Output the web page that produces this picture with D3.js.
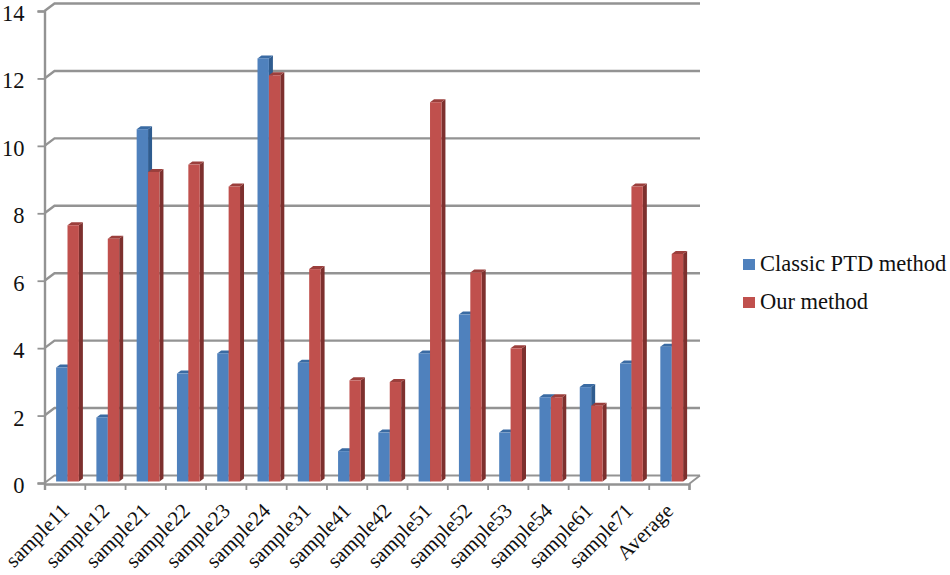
<!DOCTYPE html>
<html><head><meta charset="utf-8">
<script src="https://cdnjs.cloudflare.com/ajax/libs/d3/7.8.5/d3.min.js"></script>
<style>html,body{margin:0;background:#fff}svg{display:block}text{font-family:"Liberation Serif",serif;fill:#111}</style>
</head><body><svg id="c" width="950" height="575"></svg>
<script>
const categories=["sample11","sample12","sample21","sample22","sample23","sample24","sample31","sample41","sample42","sample51","sample52","sample53","sample54","sample61","sample71","Average"];
const classicPTD=[3.38,1.9,10.45,3.2,3.8,12.55,3.52,0.9,1.45,3.8,4.95,1.45,2.5,2.8,3.5,4.0];
const ourMethod=[7.6,7.2,9.18,9.4,8.75,12.05,6.3,3.0,2.95,11.25,6.2,3.95,2.5,2.25,8.75,6.75];
const yTicks=[0,2,4,6,8,10,12,14];
const seriesNames=["Classic PTD method","Our method"];
const svg=d3.select("#c");
const gray="#939393";
const x=d3.scaleBand().domain(categories).range([44.5,689]);
const y=d3.scaleLinear().domain([0,14]).range([483,11]);
const yBar=d3.scaleLinear().domain([0,14]).range([481.5,9.5]);
const dx=10,dy=7.5;
yTicks.forEach(t=>{
  svg.append("path").attr("d",`M${x.range()[0]},${y(t)}L${x.range()[0]+dx},${y(t)-dy}H700`)
    .attr("fill","none").attr("stroke",gray).attr("stroke-width",t===0?1.8:2.4);
});
svg.append("path").attr("d",`M${x.range()[1]},${y(0)+1}L700,${y(0)-dy}`).attr("stroke",gray).attr("stroke-width",1.8).attr("fill","none");
const ay=d3.axisLeft(y).tickValues(yTicks).tickSize(7).tickPadding(13);
const gy=svg.append("g").attr("transform","translate(44.5,0)").call(ay);
gy.selectAll("text").attr("font-size",22.5).attr("dy","0.42em").style("font-family",'"Liberation Serif",serif').attr("fill","#111");
gy.selectAll("line").attr("stroke",gray).attr("stroke-width",1.8);
gy.select(".domain").attr("stroke",gray).attr("stroke-width",2.4);
const ax=d3.axisBottom(d3.scaleLinear().domain([0,categories.length]).range(x.range())).tickValues(d3.range(categories.length+1)).tickSize(6).tickFormat("");
const gx=svg.append("g").attr("transform",`translate(0,${y(0)+1})`).call(ax);
gx.selectAll("line").attr("stroke",gray).attr("stroke-width",1.8);
gx.select(".domain").attr("stroke",gray).attr("stroke-width",2.4);
const bw=11.4,off=11.6,ddx=4,ddy=3;
const styles=[{f:"#4f81bd",s:"#2f5c8f",t:"#3a6ba3"},{f:"#c0504d",s:"#7d302e",t:"#9b3f3c"}];
[classicPTD,ourMethod].forEach((vals,si)=>{
  const st=styles[si];
  const g=svg.append("g");
  categories.forEach((c,i)=>{
    const x0=x(c)+off+si*bw,y0=yBar(vals[i]),b=yBar(0);
    g.append("path").attr("fill",st.s).attr("d",`M${x0+bw},${y0}l${ddx},${-ddy}V${b-ddy}l${-ddx},${ddy}Z`);
    g.append("path").attr("fill",st.t).attr("d",`M${x0},${y0}l${ddx},${-ddy}h${bw}l${-ddx},${ddy}Z`);
    g.append("rect").attr("x",x0).attr("y",y0).attr("width",bw).attr("height",b-y0).attr("fill",st.f);
  });
});
categories.forEach(c=>{
  const px=x(c)+x.bandwidth()/2-2.5, py=504;
  svg.append("text").attr("transform",`translate(${px},${py}) rotate(-45)`).attr("text-anchor","end").attr("dy","0.55em").attr("font-size",21).text(c);
});
const lx=743,ly=[265,303];
seriesNames.forEach((n,i)=>{
  svg.append("rect").attr("x",lx).attr("y",ly[i]-6).attr("width",12).attr("height",11).attr("fill",styles[i].f);
  svg.append("text").attr("x",760).attr("y",ly[i]+6).attr("font-size",22.5).text(n);
});
</script></body></html>
